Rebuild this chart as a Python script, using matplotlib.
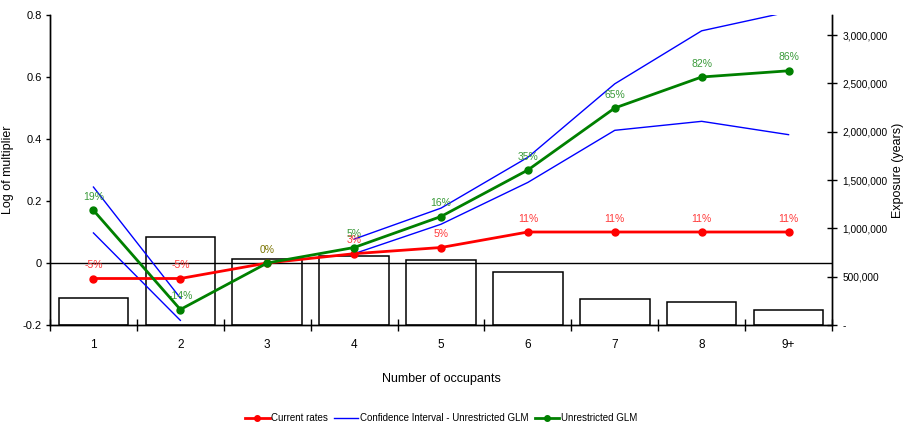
import numpy as np
import matplotlib
matplotlib.use('Agg')
import matplotlib.pyplot as plt
from matplotlib.ticker import FuncFormatter

plt.rcParams['font.family'] = ['Liberation Sans', 'DejaVu Sans']

categories = ['1', '2', '3', '4', '5', '6', '7', '8', '9+']
exposure = [276000, 913000, 680000, 711000, 676000, 552000, 272000, 235000, 155000]
current_rates = [-0.05, -0.05, 0.0, 0.03, 0.05, 0.10, 0.10, 0.10, 0.10]
glm = [0.17, -0.15, 0.0, 0.05, 0.15, 0.30, 0.50, 0.60, 0.62]
ci_upper = [0.245, -0.113, np.nan, 0.077, 0.177, 0.341, 0.578, 0.749, 0.81]
ci_lower = [0.097, -0.185, np.nan, 0.030, 0.125, 0.260, 0.428, 0.457, 0.414]

x = np.arange(len(categories))

fig = plt.figure(figsize=(9.06, 4.3), dpi=100)
ax = fig.add_axes([50/906, 1-325/430, (832-50)/906, (325-15)/430])
ax2 = ax.twinx()
ax.set_zorder(ax2.get_zorder() + 1)
ax.patch.set_visible(False)

# exposure bars on the right axis
ax2.bar(x, exposure, width=0.8, color='white', edgecolor='black', linewidth=1.1)
ax2.set_ylim(0, 3207000)
ax2.set_yticks([0, 500000, 1000000, 1500000, 2000000, 2500000, 3000000])
ax2.yaxis.set_major_formatter(FuncFormatter(lambda v, p: '-' if v == 0 else f'{int(v):,}'))
ax2.tick_params(axis='y', direction='inout', length=7, width=1, labelsize=7.3, pad=4)
ax2.set_ylabel('Exposure (years)', fontsize=9, labelpad=3)

# lines on the left axis
ax.axhline(0, color='black', lw=1, zorder=1)
ax.plot(x, current_rates, color='#ff0000', lw=2, marker='o', ms=5, label='Current rates', zorder=3)
ax.plot(x, ci_upper, color='#0000ff', lw=1, label='Confidence Interval - Unrestricted GLM', zorder=2)
ax.plot(x, ci_lower, color='#0000ff', lw=1, zorder=2)
ax.plot(x, glm, color='#008000', lw=2, marker='o', ms=5, label='Unrestricted GLM', zorder=4)

for i in x:
    r = f'{(np.exp(current_rates[i]) - 1) * 100:.0f}%'
    g = f'{(np.exp(glm[i]) - 1) * 100:.0f}%'
    if r == g and current_rates[i] == glm[i]:
        ax.annotate(r, (i, glm[i]), xytext=(0, 6), textcoords='offset points',
                    ha='center', va='bottom', fontsize=7.5, color='#7a7400')
        continue
    ax.annotate(r, (i, current_rates[i]), xytext=(0, 6), textcoords='offset points',
                ha='center', va='bottom', fontsize=7.5, color='#ff3b3b')
    ax.annotate(g, (i, glm[i]), xytext=(0, 6), textcoords='offset points',
                ha='center', va='bottom', fontsize=7.5, color='#3a9a3a')

ax.set_xlim(-0.5, len(categories) - 0.5)
ax.set_ylim(-0.2, 0.8)
ax.set_yticks([-0.2, 0, 0.2, 0.4, 0.6, 0.8])
ax.set_yticklabels(['-0.2', '0', '0.2', '0.4', '0.6', '0.8'])
ax.tick_params(axis='y', direction='out', length=3, width=1, labelsize=8, pad=3)
ax.set_ylabel('Log of multiplier', fontsize=9, labelpad=6)

ax.set_xticks(np.arange(len(categories) + 1) - 0.5)
ax.set_xticklabels([])
ax.set_xticks(x, minor=True)
ax.set_xticklabels(categories, minor=True)
ax.tick_params(axis='x', which='major', direction='inout', length=8, width=1)
ax.tick_params(axis='x', which='minor', length=0, labelsize=8.5, pad=10)
ax.set_xlabel('Number of occupants', fontsize=9, labelpad=16)

for a in (ax, ax2):
    a.spines['top'].set_visible(False)
    for s in ('left', 'right', 'bottom'):
        a.spines[s].set_linewidth(1)

h, l = ax.get_legend_handles_labels()
fig.legend(h, l, loc='lower center', bbox_to_anchor=(0.487, -0.005), ncol=3, frameon=False,
           fontsize=7, handlelength=2.5, handletextpad=0.2, columnspacing=0.6, markerscale=0.8)

fig.savefig('out.png', dpi=100)
